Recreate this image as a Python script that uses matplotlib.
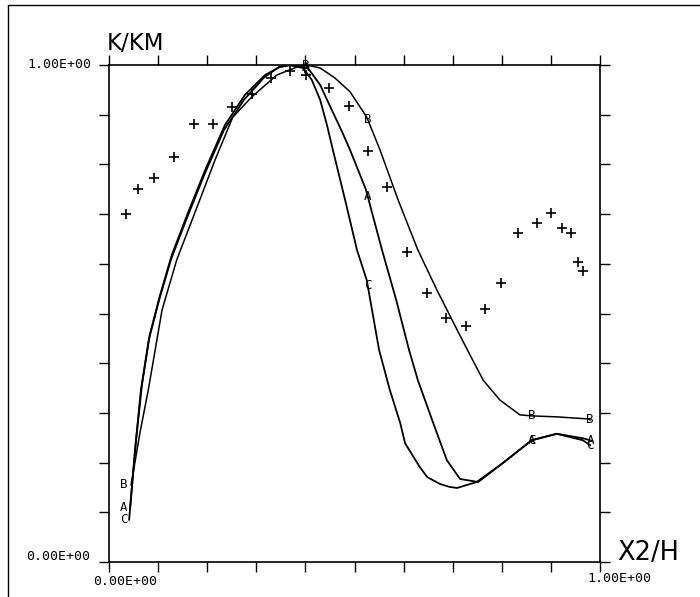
import numpy as np
import matplotlib
matplotlib.use("Agg")
import matplotlib.pyplot as plt
from matplotlib.lines import Line2D

# ---- data ----
cross_x = [0.035, 0.059, 0.092, 0.132, 0.173, 0.212, 0.250, 0.291, 0.330, 0.369,
           0.401, 0.448, 0.489, 0.527, 0.566, 0.607, 0.648, 0.686, 0.727, 0.766,
           0.798, 0.833, 0.872, 0.900, 0.923, 0.941, 0.955, 0.965]
cross_y = [0.700, 0.751, 0.773, 0.815, 0.881, 0.881, 0.915, 0.942, 0.974, 0.988,
           0.980, 0.954, 0.918, 0.827, 0.755, 0.624, 0.541, 0.491, 0.475, 0.509,
           0.561, 0.662, 0.682, 0.702, 0.672, 0.662, 0.604, 0.586]

a_x = [0.043, 0.055, 0.067, 0.083, 0.104, 0.128, 0.159, 0.196, 0.236, 0.277, 0.318,
       0.348, 0.371, 0.405, 0.430, 0.454, 0.475, 0.491, 0.523, 0.556, 0.585, 0.611,
       0.629, 0.658, 0.688, 0.715, 0.752, 0.802, 0.861, 0.912, 0.965, 0.980]
a_y = [0.109, 0.245, 0.356, 0.457, 0.537, 0.618, 0.698, 0.789, 0.879, 0.940, 0.980,
       0.996, 1.000, 0.994, 0.960, 0.909, 0.865, 0.829, 0.750, 0.628, 0.527, 0.427,
       0.366, 0.286, 0.205, 0.167, 0.161, 0.199, 0.245, 0.258, 0.249, 0.245]

c_x = [0.041, 0.053, 0.065, 0.081, 0.102, 0.126, 0.157, 0.194, 0.234, 0.275, 0.316,
       0.346, 0.367, 0.395, 0.413, 0.430, 0.444, 0.456, 0.481, 0.505, 0.525, 0.550,
       0.572, 0.593, 0.603, 0.633, 0.648, 0.674, 0.694, 0.709, 0.749, 0.802, 0.861,
       0.912, 0.965, 0.980]
c_y = [0.085, 0.225, 0.346, 0.447, 0.527, 0.608, 0.688, 0.779, 0.869, 0.930, 0.975,
       0.996, 1.000, 0.994, 0.970, 0.930, 0.879, 0.829, 0.728, 0.628, 0.567, 0.427,
       0.346, 0.280, 0.239, 0.191, 0.171, 0.157, 0.151, 0.149, 0.161, 0.199, 0.245,
       0.258, 0.245, 0.235]

b_x = [0.045, 0.063, 0.080, 0.108, 0.138, 0.173, 0.216, 0.252, 0.291, 0.342, 0.383,
       0.403, 0.430, 0.460, 0.491, 0.525, 0.552, 0.589, 0.629, 0.668, 0.709, 0.735,
       0.762, 0.796, 0.837, 0.861, 0.912, 0.974, 0.980]
b_y = [0.155, 0.260, 0.346, 0.507, 0.608, 0.698, 0.809, 0.895, 0.936, 0.980, 0.996,
       1.000, 0.994, 0.974, 0.946, 0.895, 0.829, 0.728, 0.628, 0.547, 0.467, 0.417,
       0.366, 0.326, 0.296, 0.294, 0.292, 0.288, 0.286]

label_x = [0.030, 0.400, 0.527, 0.861, 0.980]
series_names = ["B", "A", "C"]

x_ticks = [i / 10 for i in range(11)]
y_ticks = [i / 10 for i in range(11)]
end_labels = ["0.00E+00", "1.00E+00"]

# ---- figure ----
W, H = 700, 597
fig = plt.figure(figsize=(W / 100, H / 100), dpi=100)
fig.patch.set_facecolor("white")

# page frame (left and top border)
fig.add_artist(Line2D([8 / W, 8 / W], [0, 1 - 6 / H], color="black", lw=1.0, transform=fig.transFigure))
fig.add_artist(Line2D([8 / W, 1], [1 - 5 / H, 1 - 5 / H], color="black", lw=1.0, transform=fig.transFigure))

ax = fig.add_axes([109 / W, (H - 562) / H, 491 / W, 497 / H])
ax.set_xlim(0, 1)
ax.set_ylim(0, 1)
for s in ax.spines.values():
    s.set_linewidth(1.2)

ax.set_xticks(x_ticks)
ax.set_yticks(y_ticks)
ax.tick_params(axis="both", which="both", direction="out", length=7, width=1.0,
               top=True, right=True, labelbottom=False, labelleft=False)

curves = {"B": (b_x, b_y), "A": (a_x, a_y), "C": (c_x, c_y)}
for name in series_names:
    xs, ys = curves[name]
    ax.plot(xs, ys, color="black", lw=1.1 if name == "B" else 1.3,
            solid_joinstyle="round")
    for lx in label_x:
        if lx < xs[0]:
            ly = ys[0]
        else:
            ly = float(np.interp(lx, xs, ys))
        ax.text(lx, ly, name, fontsize=9, family="DejaVu Sans Mono",
                ha="center", va="center", color="black", clip_on=False)

ax.plot(cross_x, cross_y, linestyle="none", marker="+", markersize=6.5,
        markeredgewidth=1.2, color="black")

# tick end labels
mono = "DejaVu Sans Mono"
ax.text(-0.035, 1.0, end_labels[1], transform=ax.transAxes, fontsize=9.5,
        family=mono, ha="right", va="center")
ax.text(-0.039, 0.012, end_labels[0], transform=ax.transAxes, fontsize=9.5,
        family=mono, ha="right", va="center")
ax.text(-0.033, -0.04, end_labels[0], transform=ax.transAxes, fontsize=9.5,
        family=mono, ha="left", va="center")
ax.text(0.9735, -0.033, end_labels[1], transform=ax.transAxes, fontsize=9.5,
        family=mono, ha="left", va="center")

# axis titles
ax.text(-0.004, 1.030, "K/KM", transform=ax.transAxes, fontsize=16.5,
        family="DejaVu Sans", ha="left", va="baseline")
ax.text(1.035, 0.004, "X2/H", transform=ax.transAxes, fontsize=18.5,
        family="DejaVu Sans", ha="left", va="baseline")

fig.savefig("out.png", dpi=100, facecolor="white")
